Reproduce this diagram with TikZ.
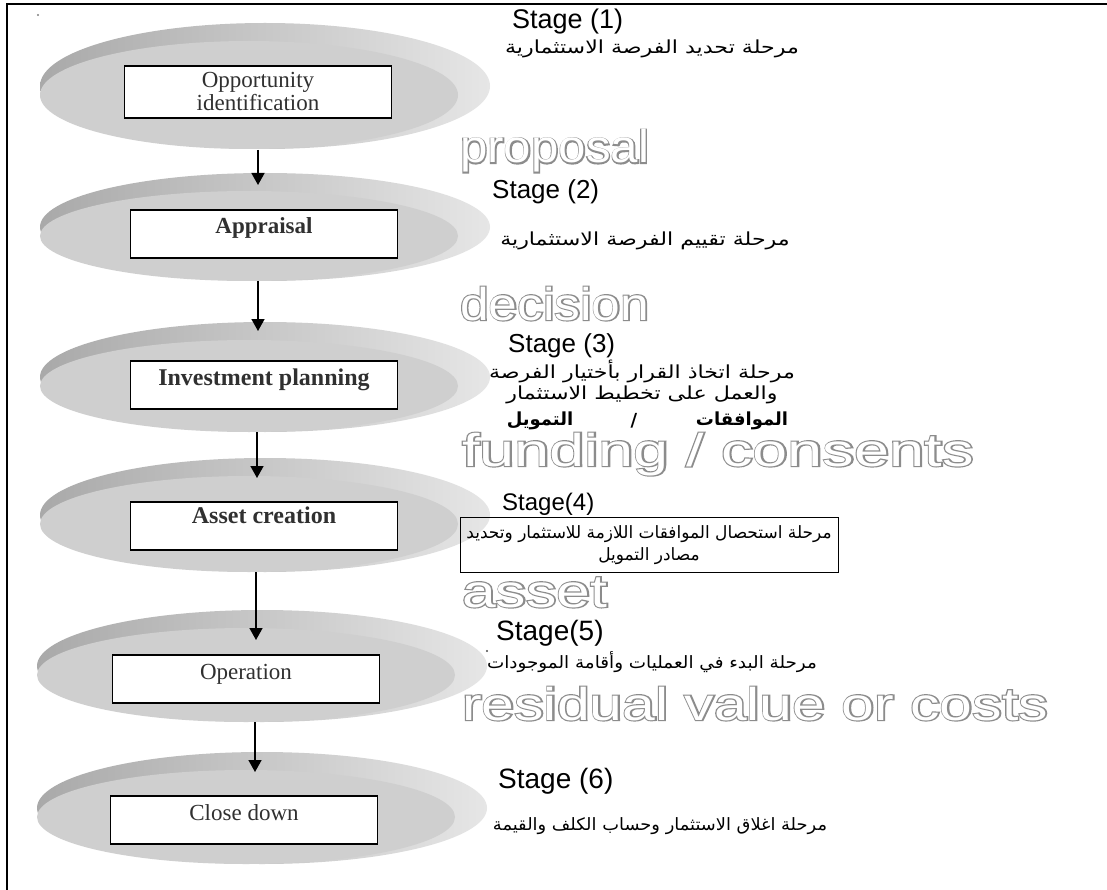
\documentclass[tikz,border=0pt]{standalone}
\usepackage{fontspec}
\usepackage{graphicx}
\setmainfont{Liberation Serif}
\newfontfamily\arial{Liberation Sans}
\newfontfamily\outlinebold[FakeBold=5]{Liberation Sans}
\newfontfamily\arabicfont[Script=Arabic]{DejaVu Sans}
\newfontfamily\arabicbold[Script=Arabic]{DejaVu Sans Bold}
\TeXXeTstate=1
\usetikzlibrary{arrows.meta,calc}

\definecolor{discband}{HTML}{A9A9A9}
\definecolor{discrim}{HTML}{E6E6E6}
\definecolor{discface}{HTML}{CFCFCF}
\definecolor{outlinegray}{HTML}{8C8C8C}
\definecolor{boxtext}{HTML}{303030}

% a shaded disc seen from above: darker back rim, lighter top face
% #1 = centre x, #2 = centre y, #3 = vertical radius
\newcommand\stagedisc[3]{%
  \shade[left color=discband, middle color=discband, right color=discrim]
    (#1,#2) ellipse [x radius=225pt, y radius=#3pt];
  \fill[discface] (#1-16,#2+9) ellipse [x radius=209pt, y radius=#3pt-9pt];
}

% hollow grey lettering: a heavy grey copy under a white copy
% #1 = name, #2 = x, #3 = baseline y, #4 = horizontal stretch, #5 = text
\newcommand\hollowword[5]{%
  \node[outl] (#1) at (#2,#3) {\scalebox{#4}[1]{#5}};
  \node[outlw] (#1-in) at (#1.base west) {\scalebox{#4}[1]{#5}};
}

\begin{document}
\begin{tikzpicture}[x=1pt, y=-1pt,
  stagebox/.style={draw=black, line width=1.8pt, fill=white, minimum width=267pt,
    minimum height=48pt, inner sep=0pt, text=boxtext,
    font=\fontsize{23}{26}\selectfont, text height=16pt, text depth=16pt},
  firstbox/.style={draw=black, line width=1.8pt, fill=white, minimum width=267pt,
    minimum height=52pt, inner sep=0pt, text=boxtext,
    font=\fontsize{23}{23}\selectfont, align=center},
  stagelabel/.style={anchor=base west, inner sep=0pt, font=\arial\fontsize{26}{28}\selectfont},
  artext/.style={inner sep=0pt, font=\arabicfont\fontsize{17}{22}\selectfont, align=center},
  arwide/.style={inner sep=0pt, font=\arabicfont\fontsize{18}{24}\selectfont},
  arbold/.style={inner sep=0pt, font=\arabicbold\fontsize{18}{20}\selectfont},
  outl/.style={anchor=base west, inner sep=0pt, text=outlinegray, font=\outlinebold\fontsize{46}{50}\selectfont},
  outlw/.style={anchor=base west, inner sep=0pt, text=white, font=\arial\fontsize{46}{50}\selectfont},
  flow/.style={line width=1.6pt, -{Triangle[width=13pt,length=12pt]}}
]
\useasboundingbox (0,0) rectangle (1107,890);
\fill[white] (0,0) rectangle (1107,890);

% frame (top and left edges)
\draw[line width=1.8pt] (7,890) -- (7,4) -- (1107,4);

% discs
\stagedisc{265}{86}{63}
\stagedisc{265}{227}{54}
\stagedisc{265}{377}{55}
\stagedisc{265}{515}{57}
\stagedisc{262}{666}{56}
\stagedisc{262}{808}{56}

% stage boxes
\node[firstbox] (b1) at (258,92) {Opportunity\\identification};
\node[stagebox, font=\bfseries\fontsize{23}{26}\selectfont] (b2) at (264,234) {Appraisal};
\node[stagebox, font=\bfseries\fontsize{24}{26}\selectfont] (b3) at (264,385) {Investment planning};
\node[stagebox, font=\bfseries\fontsize{24}{26}\selectfont, text depth=22pt] (b4) at (264,526) {Asset creation};
\node[stagebox] (b5) at (246,679) {Operation};
\node[stagebox] (b6) at (244,820) {Close down};

% connector end points on the disc rims
\coordinate (o1) at (258,150); \coordinate (i2) at (258,185);
\coordinate (o2) at (258,281); \coordinate (i3) at (258,331);
\coordinate (o3) at (257,432); \coordinate (i4) at (257,478);
\coordinate (o4) at (256,572); \coordinate (i5) at (256,640);
\coordinate (o5) at (255,722); \coordinate (i6) at (255,772);
\draw[flow] (o1) -- (i2);
\draw[flow] (o2) -- (i3);
\draw[flow] (o3) -- (i4);
\draw[flow] (o4) -- (i5);
\draw[flow] (o5) -- (i6);

% stage titles
\node[stagelabel, font=\arial\fontsize{27}{28}\selectfont] (s1) at (512,29) {Stage (1)};
\node[stagelabel] (s2) at (492,199) {Stage (2)};
\node[stagelabel] (s3) at (508,352) {Stage (3)};
\node[stagelabel, font=\arial\fontsize{24}{26}\selectfont] (s4) at (502,510) {Stage(4)};
\node[stagelabel, font=\arial\fontsize{28}{30}\selectfont] (s5) at (496,640) {Stage(5)};
\node[stagelabel, font=\arial\fontsize{28}{30}\selectfont] (s6) at (498,788) {Stage (6)};

% Arabic descriptions
\node[arwide] (a1) at (652,49) {\scalebox{1.23}[1]{\beginR مرحلة تحديد الفرصة الاستثمارية\endR}};
\node[arwide] (a2) at (645,241) {\scalebox{1.23}[1]{\beginR مرحلة تقييم الفرصة الاستثمارية\endR}};
\node[arwide] (a3) at (642,383) {\scalebox{1.23}[1]{\begin{tabular}{@{}c@{}}\beginR مرحلة اتخاذ القرار بأختيار الفرصة\endR\\[-3pt]\beginR والعمل على تخطيط الاستثمار\endR\end{tabular}}};
\node[arbold] (c1) at (742,421) {\beginR الموافقات\endR};
\node[arbold] (c2) at (634,421) {/};
\node[arbold] (c3) at (540,421) {\beginR التمويل\endR};
\node[artext, draw=black, line width=1pt, minimum width=378pt, minimum height=55pt]
  (a4) at (649,545) {\beginR مرحلة استحصال الموافقات اللازمة للاستثمار وتحديد\endR\\\beginR مصادر التمويل\endR};
\node[artext] (a5) at (652,662) {\scalebox{1.08}[1]{\beginR مرحلة البدء في العمليات وأقامة الموجودات\endR}};
\node[artext] (a6) at (660,826) {\scalebox{1.05}[1]{\beginR مرحلة اغلاق الاستثمار وحساب الكلف والقيمة\endR}};

% hollow transition words
\hollowword{w1}{460}{163}{1.07}{proposal}
\hollowword{w2}{460}{320}{1.12}{\smash{decision}}
\hollowword{w3}{462}{466}{1.37}{funding / consents}
\hollowword{w4}{462}{607}{1.32}{\smash{asset}}
\hollowword{w5}{462}{720}{1.28}{residual value or costs}

% specks
\fill[gray] (38,15) circle (1.2pt);
\fill[black!70] (487,651) circle (1.2pt);
\end{tikzpicture}
\end{document}
